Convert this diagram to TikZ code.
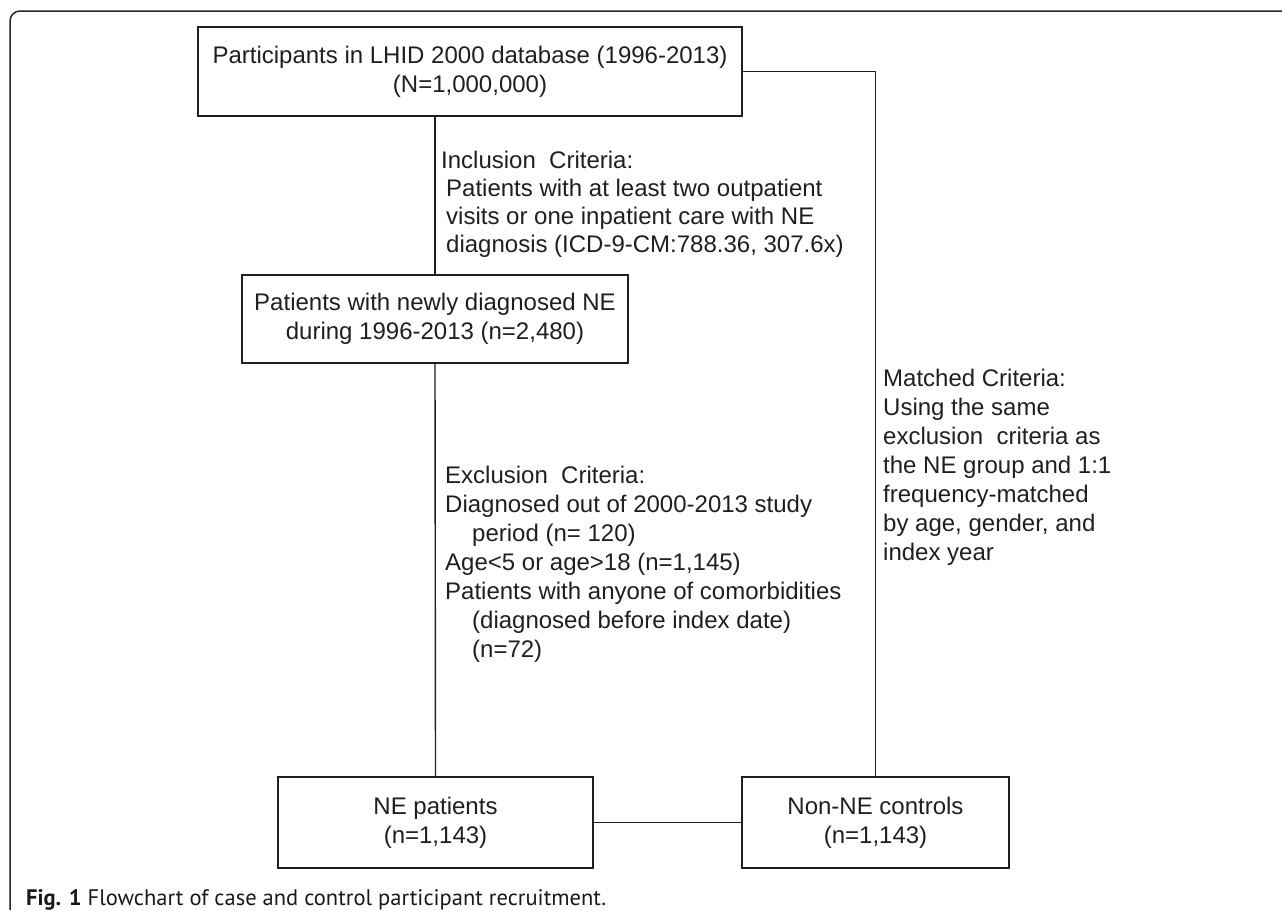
\documentclass[tikz,border=0pt]{standalone}
\usepackage{fontspec}
\setmainfont{Liberation Sans}
\newfontfamily\capfont{PT Sans}
\begin{document}
\begin{tikzpicture}[x=1pt,y=-1pt,
  box/.style={draw=black!88, line width=1.4pt, inner sep=0pt, align=center,
    font=\fontsize{24}{29}\selectfont, text=black!88},
  crit/.style={anchor=north west, inner sep=0pt, align=left,
    font=\fontsize{24}{29}\selectfont, text=black!88},
  link/.style={draw=black!88, line width=1.4pt}]
\useasboundingbox (0,0) rectangle (1282,910);
\draw[line width=1.5pt, black!85, rounded corners=10pt] (10,910) -- (10,11) -- (1282,11);

\node[box, minimum width=544pt, minimum height=89pt] (src) at (470,71.5)
  {Participants in LHID 2000 database (1996-2013)\\(N=1,000,000)};
\node[box, minimum width=386pt, minimum height=88pt] (new) at (435,319)
  {Patients with newly diagnosed NE\\during 1996-2013 (n=2,480)};
\node[box, minimum width=315pt, minimum height=91pt] (ne) at (435.5,822.5)
  {NE patients\\(n=1,143)};
\node[box, minimum width=267pt, minimum height=91pt] (ctl) at (875.5,822.5)
  {Non-NE controls\\(n=1,143)};

\node[crit, font=\fontsize{24}{28}\selectfont] (inc) at (441,149)
  {\strut Inclusion\ \ Criteria:\\
   \hspace*{5pt}Patients with at least two outpatient\\
   \hspace*{5pt}visits or one inpatient care with NE\\
   \hspace*{5pt}diagnosis (ICD-9-CM:788.36, 307.6x)};
\node[crit] (exc) at (445,463.3)
  {\strut Exclusion\ \ Criteria:\\
   Diagnosed out of 2000-2013 study\\
   \hspace*{27pt}period (n= 120)\\
   Age<5 or age>18 (n=1,145)\\
   Patients with anyone of comorbidities\\
   \hspace*{27pt}(diagnosed before index date)\\
   \hspace*{27pt}(n=72)};
\node[crit] (mat) at (883,366.3)
  {\strut Matched Criteria:\\
   Using the same\\
   exclusion\ \ criteria as\\
   the NE group and 1:1\\
   frequency-matched\\
   by age, gender, and\\
   index year};

\draw[link] (new.north |- src.south) -- (new.north);
\draw[link] (new.south) -- (ne.north);
\draw[link] (src.east) -- (src.east -| ctl.north) -- (ctl.north);
\draw[link] (ne.east) -- (ctl.west);

\node[anchor=base west, inner sep=0pt, font=\capfont\fontsize{22.5}{26}\selectfont, text=black!90]
  (cap) at (26,905) {\textbf{Fig. 1} Flowchart of case and control participant recruitment.};
\end{tikzpicture}
\end{document}
